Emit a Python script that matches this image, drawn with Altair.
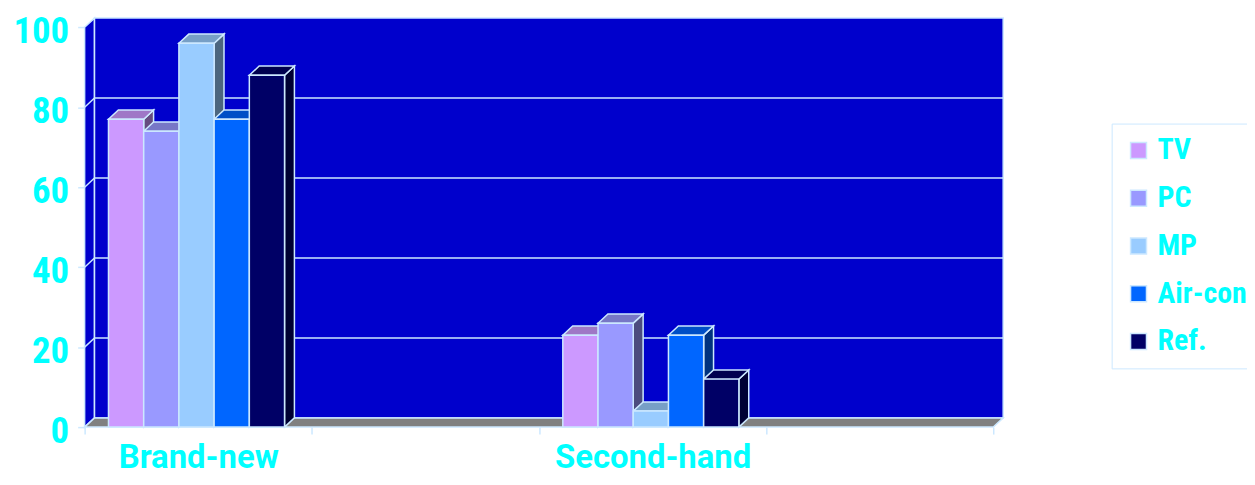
import altair as alt
import pandas as pd

# ---------------- data ----------------
categories = ["Brand-new", "", "Second-hand", ""]
series = ["TV", "PC", "MP", "Air-con", "Ref."]
tv = [77, None, 23, None]
pc = [74, None, 26, None]
mp = [96, None, 4, None]
aircon = [77, None, 23, None]
ref = [88, None, 12, None]
colors = ["#CC99FF", "#9999FF", "#99CCFF", "#0066FF", "#000066"]
y_ticks = [0, 20, 40, 60, 80, 100]

# ---------------- layout / style constants ----------------
DX = 0.0435      # depth in category units
DY = 2.3         # depth in value units
BW = 0.155       # bar width in category units
OFF = 0.105      # offset of first bar within a category slot
NCAT = len(categories)
YMAX = 100
EDGE = "#CCE8FF"
WALL = "#0000CC"
FLOOR = "#808080"
CYAN = "#00FFFF"
FONT = "Roboto Condensed, Liberation Sans Narrow, Arial Narrow, Roboto, sans-serif"
FONT_X = "Roboto, Liberation Sans, sans-serif"


def shade(h, f):
    h = h.lstrip("#")
    r, g, b = (int(h[i:i + 2], 16) for i in (0, 2, 4))
    return "#%02X%02X%02X" % (int(r * f), int(g * f), int(b * f))


front, top, side = [], [], []
for si, (s, vals) in enumerate(zip(series, [tv, pc, mp, aircon, ref])):
    for ci, v in enumerate(vals):
        if v is None:
            continue
        bid = f"{s}-{ci}"
        x0 = ci + OFF + si * BW
        x1 = x0 + BW
        front.append({"series": s, "x0": x0, "x1": x1, "v": v})
        tc = shade(colors[si], 0.78)
        sc = shade(colors[si], 0.5)
        for x, ya, yb in [(x0, v, v), (x0 + DX, v, v + DY), (x1, v, v + DY), (x1 + DX, v + DY, v + DY)]:
            top.append({"id": bid, "x": x, "ya": ya, "yb": yb, "c": tc})
        for x, ya, yb in [(x1, 0, v), (x1 + DX, DY, v + DY)]:
            side.append({"id": bid, "x": x, "ya": ya, "yb": yb, "c": sc})

front_df = pd.DataFrame(front)
top_df = pd.DataFrame(top)
side_df = pd.DataFrame(side)

left_wall_df = pd.DataFrame({"x": [0, DX], "ya": [0, DY], "yb": [YMAX, YMAX + DY]})
back_wall_df = pd.DataFrame({"x0": [DX], "x1": [NCAT + DX], "ya": [DY], "yb": [YMAX + DY]})
floor_df = pd.DataFrame({"x": [0, DX, NCAT, NCAT + DX], "ya": [0, 0, 0, DY], "yb": [0, DY, DY, DY]})
grid_vals = [v for v in y_ticks if 0 < v < YMAX]
grid_df = pd.DataFrame({"x0": [DX] * len(grid_vals), "x1": [NCAT + DX] * len(grid_vals),
                        "ya": [v + DY for v in grid_vals]})
diag_df = pd.DataFrame({"x0": [0] * len(grid_vals), "x1": [DX] * len(grid_vals),
                        "ya": grid_vals, "yb": [v + DY for v in grid_vals]})

# ---------------- scales / axes ----------------
label_pos = [i + 0.5 for i, c in enumerate(categories) if c]
x_values = sorted(set(list(range(NCAT + 1)) + label_pos))
label_expr = " : ".join(f"datum.value == {p} ? '{categories[int(p)]}'" for p in label_pos) + " : ''"
tick_test = " || ".join(f"datum.value == {p}" for p in label_pos)

xscale = alt.Scale(domain=[0, NCAT + DX], nice=False, zero=False)
yscale = alt.Scale(domain=[0, YMAX + DY], nice=False, zero=False)

xaxis = alt.Axis(values=x_values, labelExpr=label_expr, grid=False, domain=False,
                 tickColor=EDGE, tickWidth=1.5, tickSize=7,
                 tickOpacity={"condition": {"test": tick_test, "value": 0}, "value": 1},
                 labelColor=CYAN, labelFont=FONT_X, labelFontSize=33, labelFontWeight="bold",
                 labelBaseline="alphabetic", labelPadding=34,
                 labelFlush=False, labelLimit=0, title=None)
yaxis = alt.Axis(values=y_ticks, grid=False, domain=False, tickColor=EDGE, tickWidth=1.5,
                 tickSize=7, labelColor=CYAN, labelFont=FONT, labelFontSize=37,
                 labelFontWeight="bold", labelPadding=9, labelLimit=0,
                 labelBaseline="alphabetic", labelOffset=15, title=None)


def X(f):
    return alt.X(f, type="quantitative", scale=xscale, axis=xaxis)


def Y(f):
    return alt.Y(f, type="quantitative", scale=yscale, axis=yaxis)


left_wall = alt.Chart(left_wall_df).mark_area(color=WALL, stroke=EDGE, strokeWidth=1.5).encode(
    x=X("x"), y=Y("ya"), y2="yb")
back_wall = alt.Chart(back_wall_df).mark_rect(color=WALL, stroke=EDGE, strokeWidth=1.5).encode(
    x=X("x0"), x2="x1", y=Y("ya"), y2="yb")
grid = alt.Chart(grid_df).mark_rule(color=EDGE, strokeWidth=1.5).encode(
    x=X("x0"), x2="x1", y=Y("ya"))
diag = alt.Chart(diag_df).mark_rule(color=EDGE, strokeWidth=1.5).encode(
    x=X("x0"), x2="x1", y=Y("ya"), y2="yb")
floor = alt.Chart(floor_df).mark_area(color=FLOOR, stroke=EDGE, strokeWidth=1.5).encode(
    x=X("x"), y=Y("ya"), y2="yb")

sides = alt.Chart(side_df).mark_area(stroke=EDGE, strokeWidth=1.5, opacity=1).encode(
    x=X("x"), y=Y("ya"), y2="yb", detail="id:N",
    fill=alt.Fill("c:N", scale=None))
tops = alt.Chart(top_df).mark_area(stroke=EDGE, strokeWidth=1.5, opacity=1).encode(
    x=X("x"), y=Y("ya"), y2="yb", detail="id:N",
    fill=alt.Fill("c:N", scale=None))
fronts = alt.Chart(front_df).mark_rect(stroke=EDGE, strokeWidth=1.5, opacity=1).encode(
    x=X("x0"), x2="x1", y=alt.Y("v", type="quantitative", scale=yscale, axis=yaxis),
    y2=alt.datum(0),
    color=alt.Color("series:N", scale=alt.Scale(domain=series, range=colors), sort=series,
                    legend=alt.Legend(title=None, orient="none", legendX=1032, legendY=106,
                                      padding=12, strokeColor=EDGE, fillColor="white",
                                      symbolType="square", symbolSize=256,
                                      symbolStrokeColor=EDGE, symbolStrokeWidth=1.5,
                                      symbolOpacity=1, labelLimit=0,
                                      labelFontSize=30, labelColor=CYAN, labelFont=FONT,
                                      labelFontWeight="bold", rowPadding=18, labelOffset=4)))

chart = alt.layer(left_wall, back_wall, grid, diag, floor, sides, tops, fronts).properties(
    width=923, height=411,
    padding={"left": 77, "top": 9, "right": 245, "bottom": 49},
    autosize=alt.AutoSizeParams(type="none"),
    background="white",
).configure_view(stroke=None)

chart.save("out.html", embed_options={"renderer": "svg", "actions": False})
